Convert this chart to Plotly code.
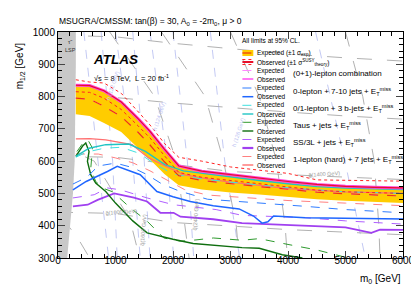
import plotly.graph_objects as go

# ---------------- data ----------------
lsp_m0 = [160, 210, 260, 290, 300, 300, 310, 310]
lsp_m12 = [300, 400, 500, 600, 700, 800, 900, 1000]

comb_m0 = [310, 550, 800, 1100, 1400, 1600, 1850, 2100, 2500, 3000, 3500, 4000, 4500, 5000, 5500, 6000]
band_up = [833, 832, 815, 780, 728, 690, 635, 582, 566, 556, 545, 535, 526, 520, 517, 515]
band_lo = [745, 740, 718, 690, 638, 605, 560, 525, 512, 503, 497, 490, 482, 477, 473, 470]
comb_exp = [795, 792, 770, 738, 688, 650, 598, 555, 540, 530, 521, 513, 504, 499, 495, 492]
comb_obs = [835, 834, 818, 783, 730, 692, 637, 585, 569, 558, 547, 537, 528, 522, 519, 517]
theo_up = [852, 845, 842, 810, 752, 712, 655, 612, 600, 582, 572, 562, 542, 540, 539, 538]
theo_lo = [815, 813, 795, 760, 708, 672, 617, 565, 550, 540, 530, 521, 510, 505, 502, 500]

blue_obs_m0 = [259, 490, 860, 1030, 1430, 1720, 2000, 2300, 2700, 3150, 3400, 3550, 3650, 3750, 4300, 5000, 6000]
blue_obs = [511, 537, 568, 584, 558, 506, 490, 475, 462, 452, 430, 408, 412, 430, 425, 423, 421]
blue_exp_m0 = [259, 500, 700, 1000, 1300, 1550, 1800, 2100, 2600, 3200, 4300, 5000, 6000]
blue_exp = [529, 550, 585, 594, 580, 558, 530, 508, 482, 475, 460, 450, 440]

teal_obs_m0 = [310, 540, 830, 1230, 1520, 1860, 2180, 2600, 3000, 3500, 4000, 4500, 5000, 6000]
teal_obs = [615, 640, 651, 653, 630, 589, 570, 560, 550, 540, 530, 521, 517, 512]
teal_exp_m0 = [310, 500, 800, 1100, 1400, 1700, 2000, 2500, 3000, 4000, 5000, 6000]
teal_exp = [612, 628, 640, 643, 625, 590, 560, 545, 535, 518, 505, 500]

green_obs_m0 = [310, 425, 483, 540, 512, 569, 655, 830, 1000, 1300, 1550, 2000, 2350, 2750, 3200, 3500, 3900, 4250]
green_obs = [615, 646, 656, 630, 599, 558, 532, 506, 470, 415, 378, 358, 345, 338, 332, 330, 310, 300]
green_exp_m0 = [330, 450, 520, 600, 570, 655, 800, 950, 1260, 1550, 1840, 2130, 2400, 2700, 3200, 3500, 4000, 4500, 5050]
green_exp = [630, 660, 666, 640, 578, 537, 515, 505, 455, 414, 362, 352, 356, 362, 355, 360, 342, 325, 300]

purple_obs_m0 = [259, 517, 690, 977, 1320, 1550, 1780, 2010, 2130, 2700, 3200, 3800, 4300, 5000, 5450, 5600, 6000]
purple_obs = [460, 465, 480, 500, 487, 475, 440, 440, 428, 420, 408, 403, 400, 395, 378, 388, 387]
purple_exp_m0 = [259, 630, 860, 1090, 1550, 2010, 2750, 3200, 4300, 5000, 6000]
purple_exp = [486, 496, 517, 511, 486, 465, 450, 432, 425, 415, 405]

salmon_obs_m0 = [310, 550, 830, 1290, 1575, 1920, 2180, 2600, 3000, 3500, 4000, 5000, 6000]
salmon_obs = [669, 670, 666, 651, 610, 579, 558, 545, 535, 525, 515, 505, 500]
salmon_exp_m0 = [310, 700, 1000, 1300, 1600, 1900, 2200, 2600, 3000, 3500, 4000, 5000, 6000]
salmon_exp = [622, 622, 610, 595, 570, 540, 512, 495, 490, 484, 478, 470, 462]

# background mass contours
gluino_m0 = [0, 1000, 2000, 3000, 4000, 5000, 6000]
gluino_1000 = [442, 438, 410, 398, 388, 380, 372]
gluino_1400 = [615, 612, 590, 568, 558, 550, 543]
gluino_1800 = [800, 797, 780, 765, 752, 740, 730]
gluino_2200 = [990, 985, 965, 948, 932, 920, 910]
squark_m12 = [1000, 800, 600, 400, 300]
squark_1600_m0 = [0, 630, 1250, 1420]
squark_1600_m12 = [653, 600, 420, 300]
squark_lines = [
    [900, 1680, 2060, 2200, 2280],
    [1800, 2560, 2880, 3100, 3150],
    [3000, 3500, 3800, 3950, 3990],
    [5000, 5300, 5500, 5580, 5600],
]
squark_1000_m0 = [0, 200, 350, 450, 550]
squark_1000_m12 = [405, 395, 360, 330, 300]
higgs_m12 = [1000, 600, 300]
higgs_lines = [
    [450, 700, 880], [750, 950, 1030], [1000, 1300, 1430], [1300, 1500, 1600],
    [1600, 1900, 2010], [2000, 2250, 2360], [2650, 2900, 3160], [4480, 4990, 5345],
]

xticks = [0, 1000, 2000, 3000, 4000, 5000, 6000]
yticks = [300, 400, 500, 600, 700, 800, 900, 1000]

# ---------------- figure ----------------
FONT = "Liberation Sans, Arial, Helvetica, sans-serif"
fig = go.Figure()

def line(x, y, color, width=1.0, dash="solid", opacity=1.0):
    fig.add_trace(go.Scatter(x=x, y=y, mode="lines", opacity=opacity,
                             line=dict(color=color, width=width, dash=dash),
                             showlegend=False, hoverinfo="skip"))

GREY = "#a8a8a8"
LAV = "#bcc3f2"
# background contours
for hl in higgs_lines:
    line(hl, higgs_m12, LAV, 0.9, "dash")
for g in [gluino_1000, gluino_1400, gluino_1800, gluino_2200]:
    line(gluino_m0, g, GREY, 0.9, "longdash")
for v in squark_lines:
    line(v, squark_m12, GREY, 0.9, "longdash")
line(squark_1600_m0, squark_1600_m12, GREY, 0.9, "longdash")
line(squark_1000_m0, squark_1000_m12, GREY, 0.9, "longdash")

# LSP region
fig.add_trace(go.Scatter(x=[0] + lsp_m0 + [0], y=[300] + lsp_m12 + [1000], fill="toself",
                         fillcolor="#c8c8c8", mode="lines", line=dict(width=0, color="#c8c8c8"),
                         showlegend=False, hoverinfo="skip"))

# expected band
fig.add_trace(go.Scatter(x=comb_m0 + comb_m0[::-1], y=band_up + band_lo[::-1], fill="toself",
                         fillcolor="#ffcc00", mode="lines", line=dict(width=0, color="#ffcc00"),
                         showlegend=False, hoverinfo="skip"))

# analyses
line(salmon_exp_m0, salmon_exp, "#ff8080", 1.0, "dash")
line(salmon_obs_m0, salmon_obs, "#ff7070", 1.3)
line(purple_exp_m0, purple_exp, "#b060ff", 1.0, "dash")
line(purple_obs_m0, purple_obs, "#a040f0", 1.8)
line(green_exp_m0, green_exp, "#2e9a2e", 1.0, "dash")
line(green_obs_m0, green_obs, "#0f6e0f", 1.4)
line(teal_exp_m0, teal_exp, "#40e0e0", 1.0, "dash")
line(teal_obs_m0, teal_obs, "#20c4c4", 1.4)
line(blue_exp_m0, blue_exp, "#2f7cff", 1.0, "dash")
line(blue_obs_m0, blue_obs, "#1f66ff", 1.5)

# combination
line(comb_m0, comb_exp, "#ff88ff", 1.0, "dash")
line(comb_m0, comb_exp, "#ee3311", 1.2, "dash")
line(comb_m0, theo_up, "#ff2222", 1.0, "dot")
line(comb_m0, theo_lo, "#ff2222", 1.0, "dot")
line(comb_m0, comb_obs, "#ff44dd", 3.0)
line(comb_m0, comb_obs, "#e8102a", 1.2)

# ---------------- annotations ----------------
def X(px):
    return (px - 50) / 348.0

def Y(py):
    return (250 - py) / 226.0

ann = []

def text(px, py, s, size=7, color="black", xanchor="left", yanchor="middle", angle=0, bold=False, italic=False):
    if bold:
        s = "<b>" + s + "</b>"
    if italic:
        s = "<i>" + s + "</i>"
    ann.append(dict(x=X(px), y=Y(py), xref="paper", yref="paper", text=s, showarrow=False,
                    xanchor=xanchor, yanchor=yanchor, textangle=angle,
                    font=dict(family=FONT, size=size, color=color)))

shapes = []

def seg(px0, py0, px1, py1, color, width=1, dash="solid"):
    shapes.append(dict(type="line", xref="paper", yref="paper", x0=X(px0), y0=Y(py0), x1=X(px1), y1=Y(py1),
                       line=dict(color=color, width=width, dash=dash)))

# title
text(49, 14, "MSUGRA/CMSSM: tan(β) = 30, A<sub>0</sub> = -2m<sub>0</sub>, μ > 0", size=8.5)
# ATLAS
text(83, 52, "ATLAS", size=13.5, bold=True, italic=True)
text(84, 70, "√s = 8 TeV,  L = 20 fb<sup>-1</sup>", size=7.5)
# LSP
text(63, 34, "τ̃", size=6, color="#333", xanchor="center")
text(63, 42, "LSP", size=5.5, color="#333", xanchor="center")

# contour labels
text(95, 204, "g̃(1000 GeV)", size=5.5, color="#999", xanchor="left", angle=-4)
text(300, 166, "g̃(1400 GeV)", size=5.5, color="#999", xanchor="left", angle=-4)
text(136, 222, "q̃(1600 GeV)", size=5.5, color="#999", xanchor="center", angle=-85)
text(189, 207, "q̃(2400 GeV)", size=5.5, color="#999", xanchor="center", angle=-85)
text(105, 78, "h (122 GeV)", size=5.5, color=LAV, xanchor="center", angle=-72)
text(152, 108, "h (124 GeV)", size=5.5, color=LAV, xanchor="center", angle=-72)
text(232, 124, "h (126 GeV)", size=5.5, color=LAV, xanchor="center", angle=-72)

# legend
text(234, 32, "All limits at 95% CL.", size=6.5)
rows = [45, 54, 62.5, 71, 80, 88.7, 97.3, 106, 114.3, 123, 131.5, 140, 148.5, 157]
sx0, sx1, tx = 236, 247, 249
shapes.append(dict(type="rect", xref="paper", yref="paper", x0=X(sx0), x1=X(sx1), y0=Y(48), y1=Y(42),
                   fillcolor="#ffcc00", line=dict(width=0)))
seg(sx0, 45, sx1, 45, "#ee3311", 1.2, "dash")
text(tx, 45, "Expected (±1 σ<sub>exp</sub>)", size=6.5)
seg(sx0, 51.5, sx1, 51.5, "#ff2222", 1, "dot")
seg(sx0, 54, sx1, 54, "#e8102a", 2)
seg(sx0, 56.5, sx1, 56.5, "#ff2222", 1, "dot")
text(tx, 54, "Observed (±1 σ<sup>SUSY</sup><sub>theory</sub>)", size=6.5)

pairs = [
    ("#ff88ff", "#ff44ee", 1.4, "(0+1)-lepton combination"),
    ("#2f7cff", "#1f66ff", 1.5, "0-lepton + 7-10 jets + E<sub>T</sub><sup>miss</sup>"),
    ("#40e0e0", "#20c4c4", 1.4, "0/1-lepton + 3 b-jets + E<sub>T</sub><sup>miss</sup>"),
    ("#2e9a2e", "#0f6e0f", 1.4, "Taus + jets + E<sub>T</sub><sup>miss</sup>"),
    ("#b060ff", "#a040f0", 2.2, "SS/3L + jets + E<sub>T</sub><sup>miss</sup>"),
    ("#ff8080", "#ff7070", 1.4, "1-lepton (hard) + 7 jets + E<sub>T</sub><sup>miss</sup>"),
]
for i, (ce, co, wo, label) in enumerate(pairs):
    ye = rows[2 + 2 * i]
    yo = rows[3 + 2 * i]
    seg(sx0, ye, sx1, ye, ce, 1, "dash")
    seg(sx0, yo, sx1, yo, co, wo)
    text(tx, ye, "Expected", size=6.5)
    text(tx, yo, "Observed", size=6.5)
    text(285, (ye + yo) / 2 - 1, label, size=8)

# axis titles
text(398, 271, "m<sub>0</sub> [GeV]", size=10, xanchor="right")
text(12, 58, "m<sub>1/2</sub> [GeV]", size=10, xanchor="center", angle=-90)

fig.update_layout(
    width=419, height=284,
    margin=dict(l=50, r=21, t=24, b=34),
    paper_bgcolor="white", plot_bgcolor="white",
    font=dict(family=FONT, size=10, color="black"),
    annotations=ann, shapes=shapes,
    xaxis=dict(range=[0, 6000], tickvals=xticks, ticks="inside", ticklen=7, tickwidth=1,
               showline=True, linecolor="black", linewidth=1, mirror="ticks", showgrid=False,
               zeroline=False, tickfont=dict(size=10), ticklabelstandoff=-7,
               minor=dict(ticks="inside", ticklen=4, dtick=200, tickcolor="black", showgrid=False)),
    yaxis=dict(range=[300, 1000], tickvals=yticks, ticks="inside", ticklen=7, tickwidth=1,
               showline=True, linecolor="black", linewidth=1, mirror="ticks", showgrid=False,
               zeroline=False, tickfont=dict(size=10),
               minor=dict(ticks="inside", ticklen=4, dtick=20, tickcolor="black", showgrid=False)),
)

fig.write_html("out.html")
